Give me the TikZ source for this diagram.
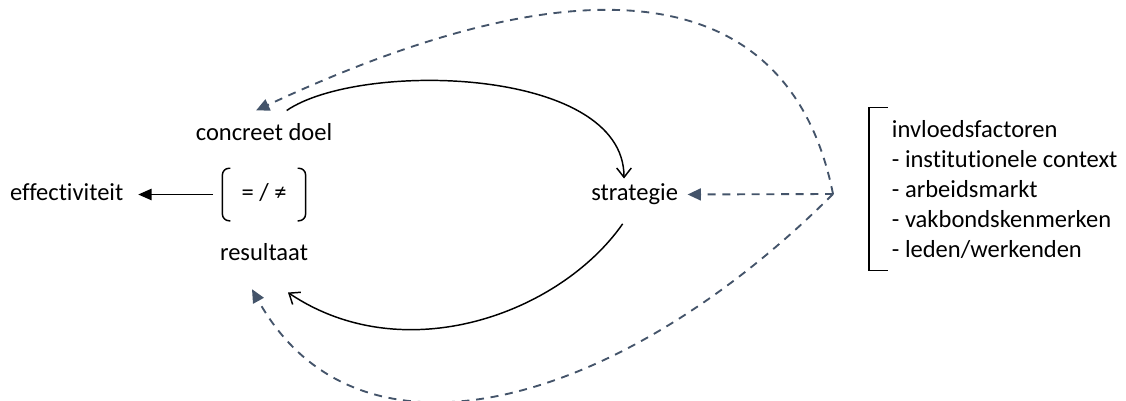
\documentclass[tikz,border=0pt]{standalone}
\usepackage{fontspec}
\setmainfont{Carlito}[Ligatures={NoCommon,NoContextual}]
\usetikzlibrary{arrows.meta}
\definecolor{slate}{HTML}{44546A}

\begin{document}
\begin{tikzpicture}[x=0.75pt,y=0.75pt,node distance=45pt,
    lbl/.style={font=\fontsize{18.4}{22.5}\selectfont,inner sep=3pt,
                text height=13pt,text depth=4.6pt},
    factors/.style={font=\fontsize{18.4}{22.5}\selectfont,align=left,anchor=west,
                    inner xsep=17pt,inner ysep=0pt,minimum height=121.5pt},
    flow/.style={line width=1.1pt,-{Straight Barb[length=7pt,width=11pt]}},
    feedback/.style={slate,line width=1.4pt,dash pattern=on 6pt off 5pt,
                     -{Triangle[length=10pt,width=9pt]}},
    bracket/.style={line width=1.1pt}]
  \useasboundingbox (0,0) rectangle (1126,-400);

  \node[lbl]  (doel)  at (264,-134.5)                {concreet doel};
  \node[lbl,minimum width=62pt,minimum height=39pt]
              (cmp)   [below of=doel]                {= / ≠};
  \node[lbl]  (res)   [below of=cmp]                 {resultaat};
  \node[lbl]  (eff)   [left of=cmp,node distance=148pt]  {effectiviteit};
  \node[lbl]  (strat) [right of=cmp,node distance=278pt] {strategie};
  \node[factors] (fac) at (869,-189) {invloedsfactoren\\- institutionele context\\- arbeidsmarkt\\- vakbondskenmerken\\- leden/werkenden};
  \coordinate (src) at (833,-194);

  % brackets
  \draw[bracket,rounded corners=5pt] ([xshift=6pt]cmp.north west) -| (cmp.west) |- ([xshift=6pt]cmp.south west);
  \draw[bracket,rounded corners=5pt] ([xshift=-6pt]cmp.north east) -| (cmp.east) |- ([xshift=-6pt]cmp.south east);
  \draw[bracket] ([xshift=14pt]fac.north west) -| (fac.south west) -- ([xshift=14pt]fac.south west);

  \draw[-{Triangle[length=10pt,width=8.5pt]},line width=1.1pt,shorten <=7pt,shorten >=8pt] (cmp) -- (eff);

  % cycle
  \draw[flow] ([xshift=17pt,yshift=6pt]doel.north) .. controls +(73,50) and +(0,112) .. ([xshift=-8pt]strat.north);
  \draw[flow] ([xshift=-9pt,yshift=-10pt]strat.south) .. controls +(-63,-90) and +(116,-78) .. ([xshift=18pt,yshift=-16.5pt]res.south);

  % influences
  \draw[feedback] (src) .. controls +(-40,200) and +(353,165) .. ([xshift=-6pt,yshift=6pt]doel.north);
  \draw[feedback,shorten >=4pt] (src) -- (strat.east);
  \draw[feedback] (src) .. controls +(-212,-212) and +(107,-192.5) .. ([xshift=-9pt,yshift=-14pt]res.south);
\end{tikzpicture}
\end{document}
